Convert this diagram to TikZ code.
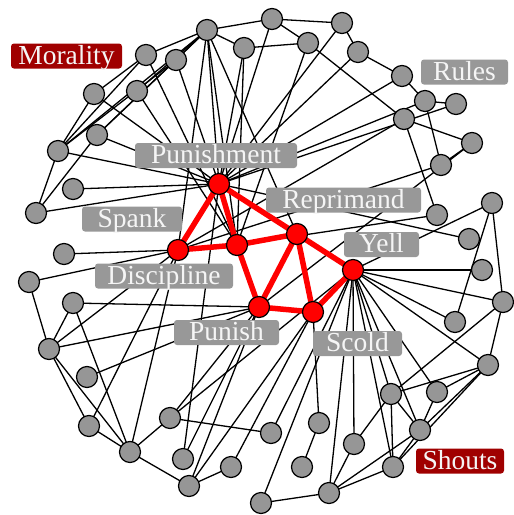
\documentclass[tikz,border=0pt]{standalone}
\usepackage{fontspec}
\setmainfont{Liberation Serif}
\definecolor{nodegray}{RGB}{150,150,150}
\definecolor{labgray}{RGB}{152,152,152}
\definecolor{darkred}{RGB}{160,0,0}
\definecolor{labtext}{RGB}{245,245,245}
\begin{document}
\begin{tikzpicture}[x=1pt,y=-1pt,
  gnode/.style={circle,draw=black,line width=1.2pt,fill=nodegray,minimum size=21pt,inner sep=0pt},
  rnode/.style={gnode,fill=red},
  link/.style={draw=black,line width=1.3pt},
  hot/.style={draw=red,line width=5.5pt},
  tag/.style={rounded corners=3pt,fill=labgray,text=labtext,inner xsep=0pt,inner ysep=1pt,
    text height=19.5pt,text depth=3.5pt,font=\fontsize{27.5}{28}\selectfont},
  hottag/.style={tag,fill=darkred}]
\useasboundingbox (0,0) rectangle (514,515);
\fill[white] (0,0) rectangle (514,515);

% ---- key terms
\coordinate (pm) at (219,184);
\coordinate (dc) at (178,250);
\coordinate (cc) at (237,245);
\coordinate (rp) at (297,234);
\coordinate (yl) at (353,270);
\coordinate (pn) at (259,307);
\coordinate (sc) at (313,312);
% ---- associated terms
\coordinate (a1) at (207,30);   \coordinate (a2) at (146,55);
\coordinate (a3) at (176,60);   \coordinate (a4) at (244,48);
\coordinate (a5) at (94,94);    \coordinate (a6) at (137,91);
\coordinate (a7) at (97,135);   \coordinate (a8) at (58,151);
\coordinate (a9) at (73,189);   \coordinate (a10) at (36,213);
\coordinate (a11) at (64,254);
\coordinate (b1) at (272,19);   \coordinate (b2) at (308,43);
\coordinate (b3) at (342,23);   \coordinate (b4) at (358,52);
\coordinate (b5) at (402,76);   \coordinate (b6) at (425,101);
\coordinate (b7) at (456,104);  \coordinate (b8) at (404,119);
\coordinate (b9) at (472,143);  \coordinate (b10) at (441,165);
\coordinate (b11) at (437,215); \coordinate (b12) at (492,203);
\coordinate (b13) at (469,239);
\coordinate (c1) at (482,270);  \coordinate (c2) at (503,302);
\coordinate (c3) at (455,322);  \coordinate (c4) at (488,365);
\coordinate (c5) at (391,394);  \coordinate (c6) at (437,392);
\coordinate (c7) at (420,430);  \coordinate (c8) at (393,467);
\coordinate (c9) at (354,444);  \coordinate (c10) at (319,423);
\coordinate (c11) at (302,467); \coordinate (c12) at (329,493);
\coordinate (c13) at (261,503); \coordinate (c14) at (271,433);
\coordinate (d1) at (231,467);  \coordinate (d2) at (189,486);
\coordinate (d3) at (183,459);  \coordinate (d4) at (170,418);
\coordinate (d5) at (130,452);  \coordinate (d6) at (89,426);
\coordinate (d7) at (87,377);   \coordinate (d8) at (49,349);
\coordinate (d9) at (73,303);   \coordinate (d10) at (29,282);

% ---- thin connections
\foreach \u/\v in {
  a1/a2,a1/a3,a1/a4,a1/b1,a1/a7,a1/a8,a1/a6,a1/pm,a1/dc,a1/cc,a1/rp,
  a2/a5,a2/a8,a2/cc,a3/a7,a3/a8,a3/pm,a4/b2,a4/pm,a4/cc,
  a5/a8,a5/pm,a6/cc,a7/a10,a7/pm,a8/a10,a8/pm,a9/pm,a10/pm,a11/dc,
  b1/b2,b1/b3,b1/pm,b2/b8,b2/cc,b3/b4,b3/pm,b4/b5,b4/pm,b5/b6,b5/pm,
  b6/b7,b6/b10,b6/pm,b7/pm,b8/b9,b8/b11,b8/dc,b9/b10,b9/pn,b10/dc,
  b11/cc,b12/c2,b12/c3,b12/yl,b13/pm,
  c1/yl,c2/c4,c2/c5,c2/yl,c3/yl,c4/c5,c4/c6,c4/c7,c4/c8,c4/yl,
  c5/c9,c5/c7,c5/c8,c5/yl,c6/c7,c6/yl,c7/c8,c7/c12,c7/yl,c8/c12,c8/yl,
  c9/c12,c9/yl,c10/sc,c10/c11,c12/c13,c12/yl,c13/yl,c14/d4,c14/yl,
  d1/d2,d1/sc,d2/d5,d2/pn,d2/sc,d3/pm,d3/pn,d4/d5,d4/pn,d4/yl,
  d5/d6,d5/d8,d5/d9,d5/dc,d6/d8,d6/dc,d7/pn,d8/d9,d8/d10,d8/dc,d8/pn,
  d9/pn,d10/dc}
  \draw[link] (\u) -- (\v);

% ---- strong connections among key terms
\foreach \u/\v in {pm/dc,pm/cc,pm/rp,dc/cc,cc/rp,cc/pn,rp/pn,rp/sc,rp/yl,pn/sc,sc/yl}
  \draw[hot] (\u) -- (\v);

% ---- labels
\node[hottag,minimum width=111pt] (lmor) at (66.5,56) {Morality};
\node[tag,minimum width=87pt] (lrul) at (464.5,72) {Rules};
\node[tag,minimum width=162pt] (lpmt) at (216,155.5) {Punishment};
\node[tag,minimum width=100pt] (lspk) at (132,219) {Spank};
\node[tag,minimum width=155pt] (lrep) at (343.5,200) {Reprimand};
\node[tag,minimum width=75pt] (lyel) at (381.5,244.5) {Yell};
\node[tag,minimum width=138pt] (ldis) at (164,276) {Discipline};
\node[tag,minimum width=105pt] (lpun) at (226.5,332.5) {Punish};
\node[tag,minimum width=89pt] (lsco) at (357.5,343.5) {Scold};
\node[hottag,minimum width=88pt] (lsho) at (460,461) {Shouts};

% ---- node discs
\foreach \n in {a1,a2,a3,a4,a5,a6,a7,a8,a9,a10,a11,
  b1,b2,b3,b4,b5,b6,b7,b8,b9,b10,b11,b12,b13,
  c1,c2,c3,c4,c5,c6,c7,c8,c9,c10,c11,c12,c13,c14,
  d1,d2,d3,d4,d5,d6,d7,d8,d9,d10}
  \node[gnode] (n\n) at (\n) {};
\foreach \n in {pm,dc,cc,rp,yl,pn,sc}
  \node[rnode] (n\n) at (\n) {};
\end{tikzpicture}
\end{document}
